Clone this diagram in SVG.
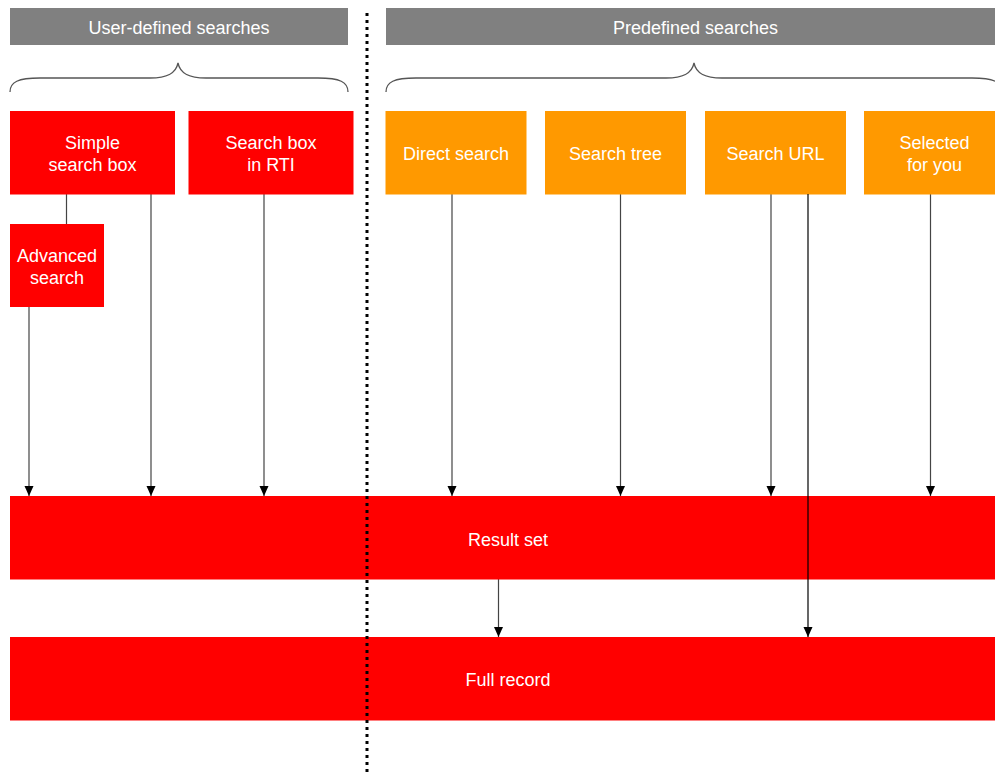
<svg xmlns="http://www.w3.org/2000/svg" width="995" height="773" viewBox="0 0 995 773">
<defs>
<style>
.hdr{fill:#808080}
.red{fill:#ff0000}
.org{fill:#ff9900}
.t{font-family:"Liberation Sans",Arial,sans-serif;font-size:18px;fill:#ffffff;text-anchor:middle}
.brace{fill:none;stroke:#555555;stroke-width:1.3}
.arr{stroke:#444444;stroke-width:1.2;fill:none;marker-end:url(#ah)}
.plain{stroke:#444444;stroke-width:1.2;fill:none}
</style>
<marker id="ah" markerWidth="10" markerHeight="10" viewBox="0 0 10 10" refX="10" refY="5" orient="auto" markerUnits="userSpaceOnUse">
<path d="M0,0.5 L10,5 L0,9.5 Z" fill="#000000"/>
</marker>
</defs>
<rect width="995" height="773" fill="#ffffff"/>

<g id="hdr-user">
<rect class="hdr" x="10" y="8" width="338" height="37"/>
<text class="t" x="179" y="33.5">User-defined searches</text>
</g>
<g id="hdr-pre">
<rect class="hdr" x="386" y="8" width="619" height="37"/>
<text class="t" x="695.5" y="33.5">Predefined searches</text>
</g>

<g id="braces">
<path class="brace" d="M10,92 C10,82 18,78 40,78 L150,78 C168,78 176,73 178,63 C180,73 188,78 206,78 L318,78 C340,78 348,82 348,92"/>
<path class="brace" d="M386,92 C386,82 394,78 416,78 L666,78 C684,78 692,73 694,63 C696,73 704,78 722,78 L972,78 C994,78 1002,82 1002,92"/>
</g>

<g id="connectors">
<line class="plain" x1="66.5" y1="194" x2="66.5" y2="224"/>
<line class="arr" x1="29" y1="307" x2="29" y2="496"/>
<line class="arr" x1="151" y1="194" x2="151" y2="496"/>
<line class="arr" x1="264" y1="194" x2="264" y2="496"/>
<line class="arr" x1="452" y1="194" x2="452" y2="496"/>
<line class="arr" x1="620.5" y1="194" x2="620.5" y2="496"/>
<line class="arr" x1="771" y1="194" x2="771" y2="496"/>
<line class="arr" x1="930.5" y1="194" x2="930.5" y2="496"/>
<line class="arr" x1="498.5" y1="579" x2="498.5" y2="637"/>
</g>

<g id="simple">
<rect class="red" x="10" y="111" width="165" height="83.5"/>
<text class="t" x="92.5" y="149">Simple</text>
<text class="t" x="92.5" y="171">search box</text>
</g>
<g id="rti">
<rect class="red" x="188.5" y="111" width="165" height="83.5"/>
<text class="t" x="271" y="149">Search box</text>
<text class="t" x="271" y="171">in RTI</text>
</g>
<g id="advanced">
<rect class="red" x="10" y="224" width="94" height="83"/>
<text class="t" x="57" y="262">Advanced</text>
<text class="t" x="57" y="284">search</text>
</g>
<g id="direct">
<rect class="org" x="385.5" y="111" width="141" height="83.5"/>
<text class="t" x="456" y="160">Direct search</text>
</g>
<g id="tree">
<rect class="org" x="545" y="111" width="141" height="83.5"/>
<text class="t" x="615.5" y="160">Search tree</text>
</g>
<g id="url">
<rect class="org" x="705" y="111" width="141" height="83.5"/>
<text class="t" x="775.5" y="160">Search URL</text>
</g>
<g id="selected">
<rect class="org" x="864" y="111" width="141" height="83.5"/>
<text class="t" x="934.5" y="149">Selected</text>
<text class="t" x="934.5" y="171">for you</text>
</g>

<g id="result">
<rect class="red" x="10" y="496" width="995" height="83.5"/>
<text class="t" x="508" y="546">Result set</text>
</g>
<g id="full">
<rect class="red" x="10" y="637" width="995" height="83.5"/>
<text class="t" x="508" y="686">Full record</text>
</g>

<g id="connectors-over">
<line x1="808" y1="194" x2="808" y2="637" stroke="#000000" stroke-width="1.2" marker-end="url(#ah)"/>
</g>

<g id="divider">
<line x1="367" y1="13" x2="367" y2="773" stroke="#000000" stroke-width="3" stroke-dasharray="3,4"/>
</g>
</svg>
